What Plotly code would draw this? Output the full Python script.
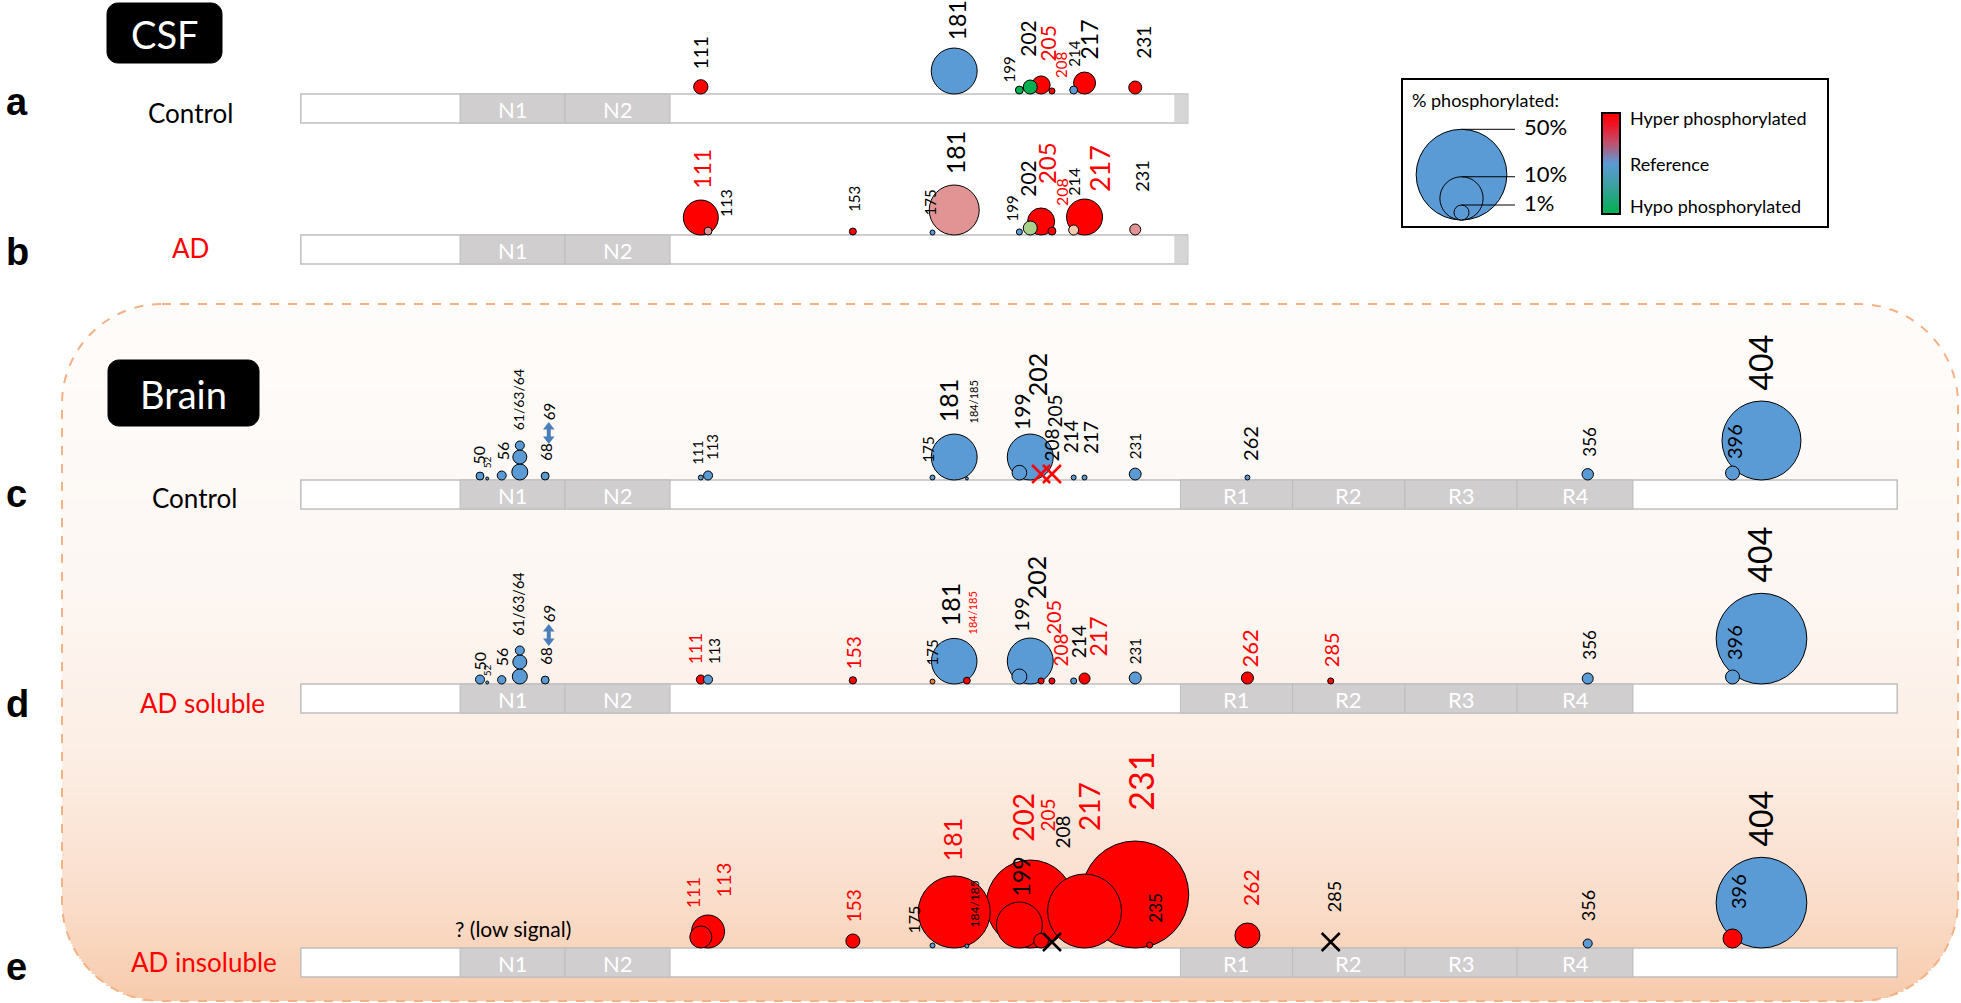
import math
import plotly.graph_objects as go

W, H = 1961, 1003
FONT = "Lato, 'Open Sans', sans-serif"

# ---------------- protein / domain data ----------------
TAU_LEN = 441
CSF_LEN = 245
domain_names = ["N1", "N2", "R1", "R2", "R3", "R4"]
domain_start = [45, 74, 244, 275, 306, 337]
domain_end = [73, 102, 274, 305, 336, 368]

row_letters = ["a", "b", "c", "d", "e"]
row_names = ["Control", "AD", "Control", "AD soluble", "AD insoluble"]
row_name_colors = ["black", "red", "black", "red", "red"]
row_lengths = [CSF_LEN, CSF_LEN, TAU_LEN, TAU_LEN, TAU_LEN]
row_domain_counts = [2, 2, 6, 6, 6]

# ---- a: CSF control
a_sites = ["111", "181", "199", "202", "205", "208", "214", "217", "231"]
a_pos = [111, 181, 199, 202, 205, 208, 214, 217, 231]
a_pct = [0.9, 11.4, 0.25, 0.86, 1.5, 0.14, 0.25, 2.3, 0.73]
a_state = ["hyper", "ref", "hypo", "hypo", "hyper", "hyper", "ref", "hyper", "hyper"]
a_mark = ["o"] * 9
a_label_red = [0, 0, 0, 0, 1, 1, 0, 0, 0]
a_label_size = [19, 23, 15, 21, 21, 15, 15, 23, 19]

# ---- b: CSF AD
b_sites = ["111", "113", "153", "175", "181", "199", "202", "205", "208", "214", "217", "231"]
b_pos = [111, 113, 153, 175, 181, 199, 202, 205, 208, 214, 217, 231]
b_pct = [6.3, 0.25, 0.19, 0.09, 13.7, 0.14, 0.86, 3.6, 0.25, 0.41, 6.7, 0.51]
b_state = ["hyper", "hyper_mild", "hyper", "ref", "hyper_mild", "ref", "hypo_mild",
           "hyper", "hyper", "light_orange", "hyper", "hyper_mild"]
b_mark = ["o"] * 12
b_label_red = [1, 0, 0, 0, 0, 0, 0, 1, 1, 0, 1, 0]
b_label_size = [23, 16, 15, 15, 25, 15, 21, 24, 16, 16, 27, 18]

# ---- c: brain control
c_sites = ["50", "52", "56", "61/63/64", "68", "69", "111", "113", "175", "181", "184/185",
           "199", "202", "205", "208", "214", "217", "231", "262", "356", "396", "404"]
c_pos = [50, 52, 56, 61, 68, 69, 111, 113, 175, 181, 184.5, 199, 202, 205, 208, 214, 217,
         231, 262, 356, 396, 404]
c_pct = [0.25, 0.03, 0.33, [1.15, 0.86, 0.33], 0.25, None, 0.09, 0.33, 0.09, 11.4, 0.03,
         0.95, 11.4, None, None, 0.09, 0.09, 0.6, 0.09, 0.55, 0.86, 37.0]
c_state = ["ref"] * 13 + ["hyper", "hyper"] + ["ref"] * 7
c_mark = ["o"] * 5 + ["arrow"] + ["o"] * 7 + ["x", "x"] + ["o"] * 7
c_label_red = [0] * 22
c_label_size = [16, 10, 16, 14, 15, 15, 14, 15, 15, 25, 11, 21, 25, 19, 19, 19, 19, 15, 20,
                17, 20, 32]

# ---- d: brain AD soluble
d_sites = ["50", "52", "56", "61/63/64", "68", "69", "111", "113", "153", "175", "181",
           "184/185", "199", "202", "205", "208", "214", "217", "231", "262", "285", "356",
           "396", "404"]
d_pos = [50, 52, 56, 61, 68, 69, 111, 113, 153, 175, 181, 184.5, 199, 202, 205, 208, 214,
         217, 231, 262, 285, 356, 396, 404]
d_pct = [0.33, 0.03, 0.28, [1.0, 0.86, 0.33], 0.25, None, 0.33, 0.33, 0.21, 0.09, 11.2,
         0.18, 1.0, 11.4, 0.14, 0.14, 0.14, 0.51, 0.62, 0.62, 0.14, 0.51, 0.86, 50.0]
d_state = ["ref", "ref", "ref", "ref", "ref", "ref", "hyper", "ref", "hyper", "orange", "ref",
           "hyper", "ref", "ref", "hyper", "hyper", "ref", "hyper", "ref", "hyper", "hyper",
           "ref", "ref", "ref"]
d_mark = ["o"] * 5 + ["arrow"] + ["o"] * 18
d_label_red = [0, 0, 0, 0, 0, 0, 1, 0, 1, 0, 0, 1, 0, 0, 1, 1, 0, 1, 0, 1, 1, 0, 0, 0]
d_label_size = [16, 10, 16, 14.5, 15, 15, 18, 15, 19, 15, 25, 11, 20, 25, 20, 19, 19, 23,
                15, 22, 20, 17, 20, 32]

# ---- e: brain AD insoluble
e_sites = ["111", "113", "153", "175", "181", "184/185", "199", "202", "205", "208", "217",
           "231", "235", "262", "285", "356", "396", "404"]
e_pos = [111, 113, 153, 175, 181, 184.5, 199, 202, 205, 208, 217, 231, 235, 262, 285, 356,
         396, 404]
e_pct = [2.3, 5.55, 0.86, 0.09, 30.3, 0.056, 11.4, 46.8, 0.95, None, 32.1, 71.6, 0.14, 3.04,
         None, 0.33, 1.67, 50.0]
e_state = ["hyper", "hyper", "hyper", "ref", "hyper", "ref", "hyper", "hyper", "hyper", "nd",
           "hyper", "hyper", "hyper", "hyper", "nd", "ref", "hyper", "ref"]
e_mark = ["o"] * 9 + ["x"] + ["o"] * 4 + ["x"] + ["o"] * 3
e_label_red = [1, 1, 1, 0, 1, 0, 0, 1, 1, 0, 1, 1, 0, 1, 0, 0, 0, 0]
e_label_size = [18, 20, 19, 16, 25, 12, 23, 28, 19, 19, 28, 34, 17, 21, 18, 18, 20, 32]

legend_pcts = [50, 10, 1]
legend_texts = ["50%", "10%", "1%"]

# ---------------- layout helpers (positions / styles) ----------------
ROW_TOP = [94, 235, 480, 684, 948]
BAR_H = 29
a_dx = [0, 3, -10, -3, 6, 9, 0, 4, 8]
a_lift = [24, 53, 11, 36, 31, 15, 26, 33, 34]
b_dx = [1, 17, 1, -3, 1, -7, -3, 5, 9, -1, 15, 6]
b_lift = [45, 17, 22, 18, 60, 13, 37, 50, 28, 38, 42, 42]
c_dx = [-2, 0, 1, -1, 0, 0, -4, 4, -5, -6, 7, 2, 7, 13, 0, -3, 6, 0, 2, 1, 1, -1]
c_lift = [14, 11, 19, 49, 18, 59, 14, 19, 16, 57, 56, 49, 83, 51, 18, 26, 25, 20, 18, 22, 20, 89]
d_dx = [-1, 0, 0, -2, 0, 0, -6, 6, 1, -1, -4, 6, 1, 6, 11, 9, 5, 13, 0, 2, 0, 1, 1, -2]
d_lift = [12, 7, 17, 47, 18, 61, 19, 19, 14, 17, 57, 49, 51, 84, 48, 17, 25, 26, 19, 16, 16,
          23, 23, 101]
e_dx = [-8, 14, 1, -20, -2, 8, 2, -8, 6, 11, 4, 5, 5, 3, 3, 0, 5, -1]
e_lift = [39, 49, 25, 13, 86, 20, 51, 105, 115, 99, 116, 136, 24, 41, 35, 26, 38, 101]

LETTER_Y = [102, 252, 494, 704, 967]
NAME_X = [190, 190, 194, 202, 204]
NAME_Y = [113, 248, 498, 703, 962]

X0_PX = 299.0
PX_PER_RES = 3.62
LABEL_SCALE = 1.0
ARROW_COLOR = "#4a7ebb"

COLORS = {"hyper": "#ff0000", "hyper_mild": "#e29494", "ref": "#5b9bd5",
          "hypo_mild": "#a9d18e", "hypo": "#00b050", "light_orange": "#f8cbad",
          "orange": "#ed7d31", "nd": "#000000"}


def diam(p):
    return 15.0 * p ** 0.46


def lerp_color(stops, t):
    t = max(0.0, min(1.0, t))
    for (t0, c0), (t1, c1) in zip(stops[:-1], stops[1:]):
        if t <= t1:
            f = 0 if t1 == t0 else (t - t0) / (t1 - t0)
            c = [round(c0[i] + (c1[i] - c0[i]) * f) for i in range(3)]
            return "rgb(%d,%d,%d)" % tuple(c)
    return "rgb(%d,%d,%d)" % stops[-1][1]


def rrect_path(x0, y0, x1, y1, r):
    k = 0.5523 * r
    return (f"M {x0+r},{y0} L {x1-r},{y0} C {x1-r+k},{y0} {x1},{y0+r-k} {x1},{y0+r} "
            f"L {x1},{y1-r} C {x1},{y1-r+k} {x1-r+k},{y1} {x1-r},{y1} "
            f"L {x0+r},{y1} C {x0+r-k},{y1} {x0},{y1-r+k} {x0},{y1-r} "
            f"L {x0},{y0+r} C {x0},{y0+r-k} {x0+r-k},{y0} {x0+r},{y0} Z")


shapes, annotations, traces = [], [], []

# ---------------- brain panel background (gradient + dashed border) ----------------
BX0, BX1, BY0, BY1, BR = 62, 1958, 304, 1001, 100
grad_stops = [(0.0, (254, 252, 250)), (0.4, (253, 247, 243)), (0.65, (252, 238, 228)),
              (0.85, (250, 222, 204)), (1.0, (247, 203, 172))]
step = 3
yy = BY0
while yy < BY1:
    ya, yb = yy, min(yy + step + 1, BY1)
    ym = (ya + yb) / 2
    inset = 0.0
    if ym < BY0 + BR:
        dy = BY0 + BR - ym
        inset = BR - math.sqrt(max(BR * BR - dy * dy, 0))
    elif ym > BY1 - BR:
        dy = ym - (BY1 - BR)
        inset = BR - math.sqrt(max(BR * BR - dy * dy, 0))
    shapes.append(dict(type="rect", xref="x2", yref="y", x0=BX0 + inset, x1=BX1 - inset,
                       y0=ya, y1=yb, fillcolor=lerp_color(grad_stops, (ym - BY0) / (BY1 - BY0)),
                       line=dict(width=0), layer="below"))
    yy += step
shapes.append(dict(type="path", xref="x2", yref="y", path=rrect_path(BX0, BY0, BX1, BY1, BR),
                   line=dict(color="#f4b183", width=2, dash="dash"), layer="below"))

# ---------------- black title boxes ----------------
for (x0, y0, x1, y1, txt) in [(107, 3, 222, 63, "CSF"), (108, 360, 259, 426, "Brain")]:
    shapes.append(dict(type="path", xref="x2", yref="y", path=rrect_path(x0, y0, x1, y1, 11),
                       fillcolor="black", line=dict(color="black", width=1), layer="below"))
    annotations.append(dict(x=(x0 + x1) / 2, y=(y0 + y1) / 2 + 1, xref="x2", yref="y", text=txt,
                            showarrow=False, font=dict(family=FONT, size=38, color="white")))

# ---------------- rows ----------------
rows = [
    (a_sites, a_pos, a_pct, a_state, a_mark, a_label_red, a_label_size, a_dx, a_lift),
    (b_sites, b_pos, b_pct, b_state, b_mark, b_label_red, b_label_size, b_dx, b_lift),
    (c_sites, c_pos, c_pct, c_state, c_mark, c_label_red, c_label_size, c_dx, c_lift),
    (d_sites, d_pos, d_pct, d_state, d_mark, d_label_red, d_label_size, d_dx, d_lift),
    (e_sites, e_pos, e_pct, e_state, e_mark, e_label_red, e_label_size, e_dx, e_lift),
]

arrow_up_x, arrow_up_y, arrow_dn_x, arrow_dn_y = [], [], [], []

for r, (sites, pos, pct, state, mark, lred, lsize, ldx, llift) in enumerate(rows):
    top = ROW_TOP[r]
    L = row_lengths[r]
    shapes.append(dict(type="rect", xref="x", yref="y", x0=0.5, x1=L + 0.5, y0=top,
                       y1=top + BAR_H, fillcolor="white",
                       line=dict(color="#bfbfbf", width=1.5), layer="below"))
    if L < TAU_LEN:
        shapes.append(dict(type="rect", xref="x", yref="y", x0=L - 3.2, x1=L + 0.5,
                           y0=top + 1, y1=top + BAR_H - 1, fillcolor="#d6d6d6",
                           line=dict(width=0), layer="below"))
    for k in range(row_domain_counts[r]):
        shapes.append(dict(type="rect", xref="x", yref="y", x0=domain_start[k] - 0.5,
                           x1=domain_end[k] + 0.5, y0=top, y1=top + BAR_H,
                           fillcolor="#d0cece", line=dict(color="#bcbcbc", width=1),
                           layer="below"))
        annotations.append(dict(x=(domain_start[k] + domain_end[k]) / 2, y=top + BAR_H / 2 + 1,
                                xref="x", yref="y", text=domain_names[k], showarrow=False,
                                font=dict(family=FONT, size=22, color="white")))
    annotations.append(dict(x=4, y=LETTER_Y[r], xref="x2", yref="y", text=row_letters[r],
                            xanchor="left", showarrow=False,
                            font=dict(family="Liberation Sans, Arial, sans-serif", size=38,
                                      color="black", weight="bold")))
    annotations.append(dict(x=NAME_X[r], y=NAME_Y[r], xref="x2", yref="y", text=row_names[r],
                            showarrow=False,
                            font=dict(family=FONT, size=26, color=row_name_colors[r])))

    cx, cy, cs, cc = [], [], [], []
    xx, xy, xc = [], [], []
    for i in range(len(sites)):
        if mark[i] == "o":
            stack = pct[i] if isinstance(pct[i], list) else [pct[i]]
            base = top
            for p in stack:
                d = diam(p)
                cx.append(pos[i]); cy.append(base - d / 2); cs.append(d)
                cc.append(COLORS[state[i]])
                base -= d
        elif mark[i] == "x":
            xx.append(pos[i]); xy.append(top - 6); xc.append(COLORS[state[i]])
        elif mark[i] == "arrow":
            y_hi = top - llift[i] + 2
            y_lo = top - llift[i] + 22
            shapes.append(dict(type="line", xref="x", yref="y", x0=pos[i], x1=pos[i],
                               y0=y_hi + 5, y1=y_lo - 5,
                               line=dict(color=ARROW_COLOR, width=4), layer="above"))
            arrow_up_x.append(pos[i]); arrow_up_y.append(y_hi + 4)
            arrow_dn_x.append(pos[i]); arrow_dn_y.append(y_lo - 4)
        annotations.append(dict(x=pos[i], y=top - llift[i], xref="x", yref="y", text=sites[i],
                                textangle=-90, showarrow=False, xanchor="center",
                                yanchor="bottom", xshift=ldx[i], borderpad=0,
                                font=dict(family=FONT, size=lsize[i] * LABEL_SCALE,
                                          color="#ff0000" if lred[i] else "black")))
    order = sorted(range(len(cs)), key=lambda j: -cs[j])
    traces.append(go.Scatter(x=[cx[j] for j in order], y=[cy[j] for j in order], mode="markers",
                             marker=dict(size=[cs[j] for j in order],
                                         color=[cc[j] for j in order], opacity=1,
                                         line=dict(color="black", width=1)),
                             hoverinfo="skip", cliponaxis=False))
    if xx:
        traces.append(go.Scatter(x=xx, y=xy, mode="markers",
                                 marker=dict(symbol="x-thin", size=18, opacity=1,
                                             line=dict(color=xc, width=2.5)),
                                 hoverinfo="skip", cliponaxis=False))

traces.append(go.Scatter(x=arrow_up_x, y=arrow_up_y, mode="markers", hoverinfo="skip",
                         marker=dict(symbol="triangle-up", size=10, color=ARROW_COLOR,
                                     opacity=1, line=dict(width=0)), cliponaxis=False))
traces.append(go.Scatter(x=arrow_dn_x, y=arrow_dn_y, mode="markers", hoverinfo="skip",
                         marker=dict(symbol="triangle-down", size=10, color=ARROW_COLOR,
                                     opacity=1, line=dict(width=0)), cliponaxis=False))

# ---------------- 'low signal' note ----------------
annotations.append(dict(x=(domain_start[0] + domain_end[0]) / 2, y=928, xref="x", yref="y",
                        text="? (low signal)", showarrow=False,
                        font=dict(family=FONT, size=21, color="black")))

# ---------------- legend ----------------
shapes.append(dict(type="rect", xref="x2", yref="y", x0=1402, x1=1828, y0=79, y1=227,
                   fillcolor="white", line=dict(color="black", width=2), layer="below"))
annotations.append(dict(x=1410, y=100, xref="x2", yref="y", text="% phosphorylated:",
                        xanchor="left", showarrow=False,
                        font=dict(family=FONT, size=18, color="black")))
LEG_CX, LEG_BASE = 1461.5, 220
leg_d = [diam(p) for p in legend_pcts]
traces.append(go.Scatter(x=[LEG_CX] * 3, y=[LEG_BASE - d / 2 for d in leg_d], xaxis="x2",
                         yaxis="y", mode="markers",
                         marker=dict(size=leg_d, color=COLORS["ref"], opacity=1,
                                     line=dict(color="black", width=1)),
                         hoverinfo="skip", cliponaxis=False))
for d, t in zip(leg_d, legend_texts):
    ytop = LEG_BASE - d
    shapes.append(dict(type="line", xref="x2", yref="y", x0=LEG_CX, x1=1515, y0=ytop, y1=ytop,
                       line=dict(color="black", width=1), layer="above"))
    annotations.append(dict(x=1522, y=ytop - 3, xref="x2", yref="y", text=t, xanchor="left",
                            showarrow=False, font=dict(family=FONT, size=22, color="black")))
cbar_stops = [(0.0, (255, 0, 0)), (0.12, (240, 20, 40)), (0.3, (190, 80, 110)),
              (0.5, (91, 155, 213)), (0.72, (60, 160, 160)), (1.0, (0, 176, 80))]
CB_X0, CB_X1, CB_Y0, CB_Y1 = 1602, 1620, 113, 214
yy = CB_Y0
while yy < CB_Y1:
    shapes.append(dict(type="rect", xref="x2", yref="y", x0=CB_X0, x1=CB_X1, y0=yy,
                       y1=min(yy + 3, CB_Y1),
                       fillcolor=lerp_color(cbar_stops, (yy + 1 - CB_Y0) / (CB_Y1 - CB_Y0)),
                       line=dict(width=0), layer="below"))
    yy += 2
shapes.append(dict(type="rect", xref="x2", yref="y", x0=CB_X0, x1=CB_X1, y0=CB_Y0, y1=CB_Y1,
                   line=dict(color="black", width=2), layer="below"))
for txt, ypos in [("Hyper phosphorylated", 118), ("Reference", 164),
                  ("Hypo phosphorylated", 206)]:
    annotations.append(dict(x=1628, y=ypos, xref="x2", yref="y", text=txt, xanchor="left",
                            showarrow=False, font=dict(family=FONT, size=18, color="black")))

# ---------------- figure ----------------
fig = go.Figure(data=traces)
fig.update_layout(
    width=W, height=H, margin=dict(l=0, r=0, t=0, b=0, pad=0),
    paper_bgcolor="white", plot_bgcolor="white", showlegend=False,
    xaxis=dict(range=[(0 - X0_PX) / PX_PER_RES, (W - X0_PX) / PX_PER_RES], visible=False,
               fixedrange=True),
    xaxis2=dict(range=[0, W], overlaying="x", visible=False, fixedrange=True),
    yaxis=dict(range=[H, 0], visible=False, fixedrange=True),
    shapes=shapes, annotations=annotations,
)
fig.write_html("out.html", config={"displayModeBar": False},
               post_script="document.body.style.margin='0';document.body.style.overflow='hidden';")
